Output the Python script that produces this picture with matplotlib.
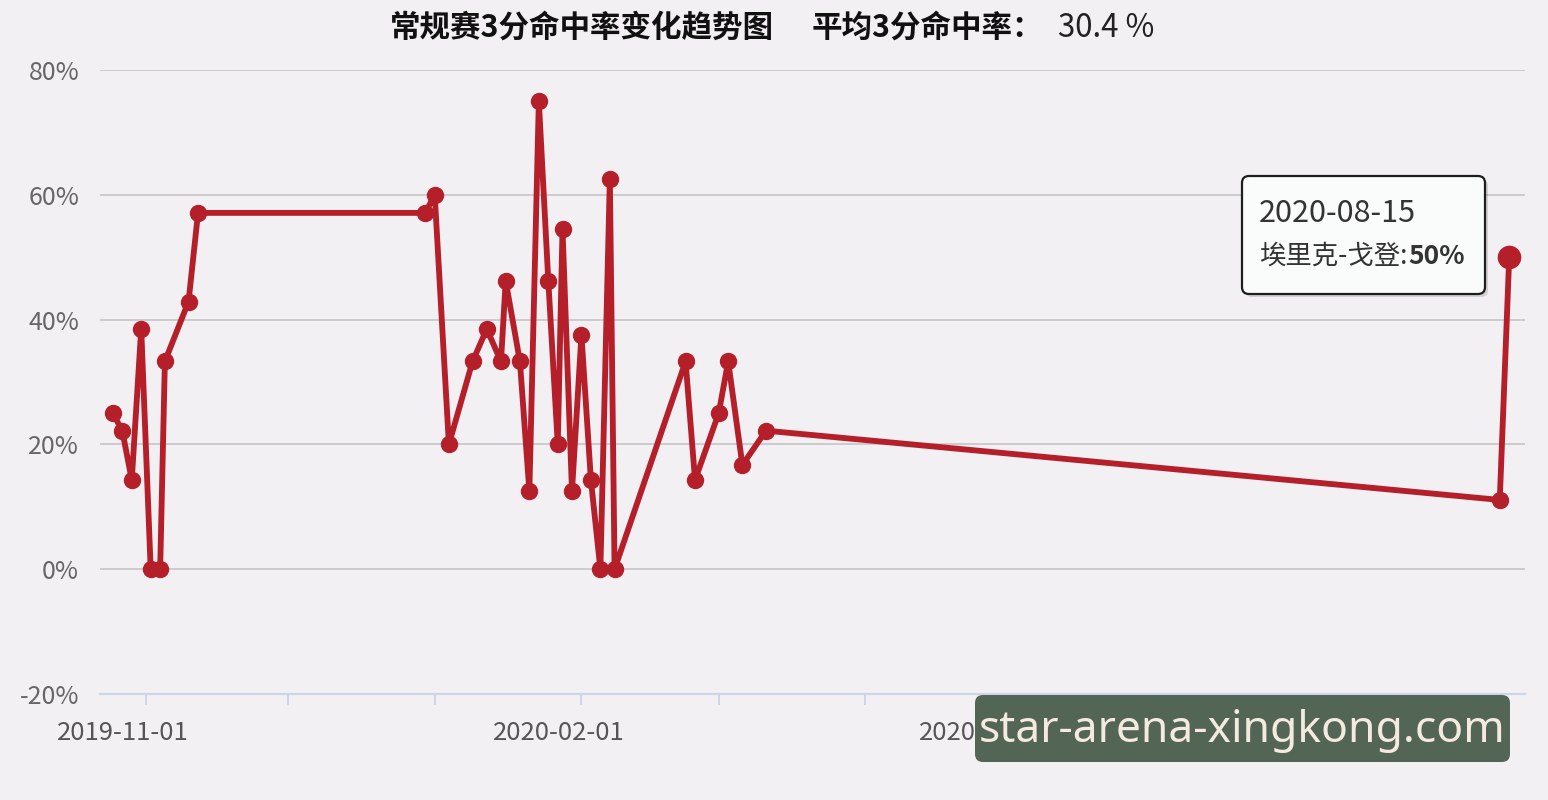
import matplotlib
matplotlib.use('Agg')
import matplotlib.pyplot as plt
import matplotlib.dates as mdates
from matplotlib.patches import FancyBboxPatch
from matplotlib.transforms import IdentityTransform, ScaledTranslation
from matplotlib.ticker import FuncFormatter, FixedLocator
import datetime as dt

# ---------------- data ----------------
dates = ['2019-10-25', '2019-10-27', '2019-10-29', '2019-10-31', '2019-11-02',
         '2019-11-04', '2019-11-05', '2019-11-10', '2019-11-12', '2019-12-30',
         '2020-01-01', '2020-01-04', '2020-01-09', '2020-01-12', '2020-01-15',
         '2020-01-16', '2020-01-19', '2020-01-21', '2020-01-23', '2020-01-25',
         '2020-01-27', '2020-01-28', '2020-01-30', '2020-02-01', '2020-02-03',
         '2020-02-05', '2020-02-07', '2020-02-08', '2020-02-23', '2020-02-25',
         '2020-03-01', '2020-03-03', '2020-03-06', '2020-03-11', '2020-08-13',
         '2020-08-15']
pct = [25.0, 22.2, 14.3, 38.5, 0.0,
       0.0, 33.3, 42.9, 57.1, 57.1,
       60.0, 20.0, 33.3, 38.5, 33.3,
       46.2, 33.3, 12.5, 75.0, 46.2,
       20.0, 54.5, 12.5, 37.5, 14.3,
       0.0, 62.5, 0.0, 33.3, 14.3,
       25.0, 33.3, 16.7, 22.2, 11.1,
       50.0]
y_ticks = [-20, 0, 20, 40, 60, 80]
label_months = [2, 5, 8, 11]
title_main = '常规赛3分命中率变化趋势图'
title_avg_label = '平均3分命中率：'
avg_value = '30.4 %'
tooltip_date = '2020-08-15'
tooltip_name = '埃里克-戈登:'
tooltip_value = '50%'
watermark = 'star-arena-xingkong.com'

# ---------------- style ----------------
plt.rcParams['font.family'] = ['Noto Sans CJK SC', 'DejaVu Sans']
BG = '#f3f0f3'
RED = '#b41f2a'

W, H = 1548, 800
fig = plt.figure(figsize=(W / 100, H / 100), dpi=100)
fig.patch.set_facecolor(BG)
ax = fig.add_axes([100 / W, 106 / H, 1425 / W, 624 / H])
ax.set_facecolor(BG)

x = [dt.datetime.strptime(d, '%Y-%m-%d') for d in dates]
ax.plot(x, pct, color=RED, lw=4.2, marker='o', ms=11.5, zorder=3,
        solid_joinstyle='round')
ax.plot(x[-1:], pct[-1:], color=RED, marker='o', ms=16, ls='none', zorder=4)

ax.set_xlim(dt.datetime(2019, 10, 22, 7), dt.datetime(2020, 8, 18, 8))
ax.set_ylim(-20, 80)

for s in ['top', 'right', 'left']:
    ax.spines[s].set_visible(False)
ax.spines['bottom'].set_color('#ccd6eb')
ax.spines['bottom'].set_linewidth(1.6)

ax.yaxis.set_major_locator(FixedLocator(y_ticks))
ax.yaxis.set_major_formatter(FuncFormatter(lambda v, p: f'{v:g}%'))
ax.yaxis.grid(True, color='#c5c5c8', lw=1.2, zorder=0)
ax.set_axisbelow(True)
ax.tick_params(axis='y', length=0, pad=15, labelsize=18, labelcolor='#666666')

ax.xaxis.set_major_locator(mdates.MonthLocator(bymonth=label_months))
ax.xaxis.set_major_formatter(mdates.DateFormatter('%Y-%m-%d'))
ax.xaxis.set_minor_locator(mdates.MonthLocator())
ax.tick_params(axis='x', which='both', length=8, width=1.4, color='#ccd6eb',
               direction='out', pad=11, labelsize=18.5, labelcolor='#555555')

shift = ScaledTranslation(-23 / 100, 0, fig.dpi_scale_trans)
for lab in ax.get_xticklabels():
    lab.set_transform(lab.get_transform() + shift)

# ---------------- title ----------------
px = IdentityTransform()
fig.text(390, H - 28, title_main, transform=px, fontsize=22, fontweight='bold',
         color='#111111', ha='left', va='center')
fig.text(812, H - 28, title_avg_label, transform=px, fontsize=22, fontweight='bold',
         color='#111111', ha='left', va='center')
fig.text(1058, H - 28, avg_value, transform=px, fontsize=22.5,
         color='#222222', ha='left', va='center')

# ---------------- tooltip ----------------
shadow = FancyBboxPatch((1245, H - 297), 243, 118, transform=px,
                        boxstyle='round,pad=0,rounding_size=7',
                        facecolor='#00000022', edgecolor='none', zorder=5)
fig.add_artist(shadow)
tip = FancyBboxPatch((1242, H - 294), 243, 118, transform=px,
                     boxstyle='round,pad=0,rounding_size=7',
                     facecolor='#fafcfc', edgecolor='#1e1e1e', lw=1.6, zorder=6)
fig.add_artist(tip)
fig.text(1259, H - 213, tooltip_date, transform=px, fontsize=22, color='#333333',
         ha='left', va='center', zorder=7)
t2 = fig.text(1259, H - 256, tooltip_name, transform=px, fontsize=19, color='#333333',
              ha='left', va='center', zorder=7)
fig.canvas.draw()
bb = t2.get_window_extent()
fig.text(bb.x1 + 1, H - 256, tooltip_value, transform=px, fontsize=19,
         fontweight='bold', color='#333333', ha='left', va='center', zorder=7)

# ---------------- watermark ----------------
wm = FancyBboxPatch((975, H - 762), 535, 67, transform=px,
                    boxstyle='round,pad=0,rounding_size=8',
                    facecolor='#536656', edgecolor='none', zorder=8)
fig.add_artist(wm)
fig.text(1242, H - 731, watermark, transform=px, fontsize=32, color='#f4eadf',
         family=['Noto Sans', 'DejaVu Sans'],
         ha='center', va='center', zorder=9)

fig.savefig('out.png', dpi=100, facecolor=BG)
